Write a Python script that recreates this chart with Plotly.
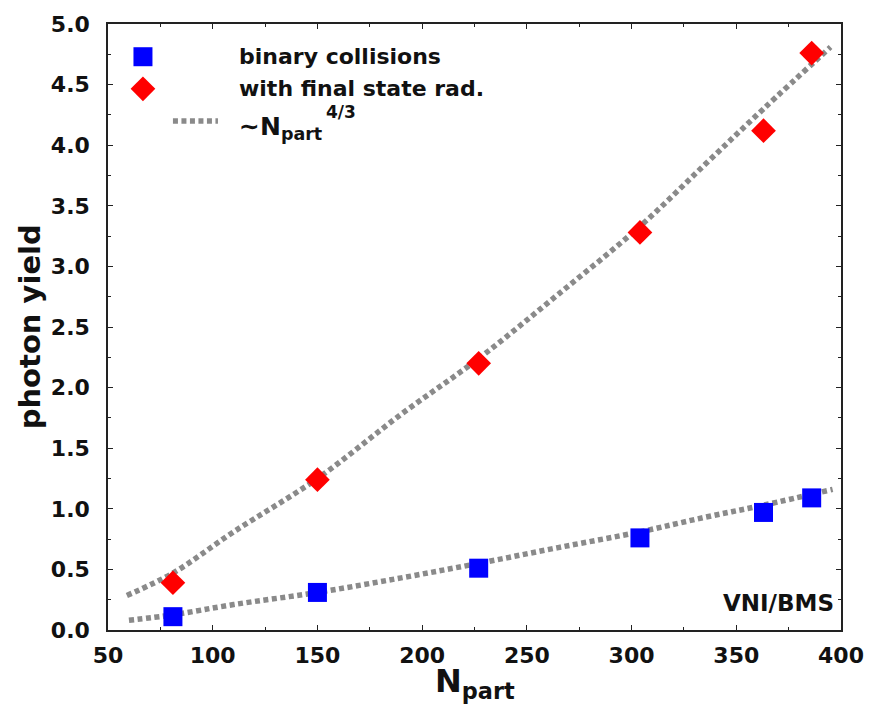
import plotly.graph_objects as go

# ---------------- data ----------------
npart = [81, 150, 227, 304, 363, 386]
binary_coll = [0.11, 0.31, 0.51, 0.76, 0.97, 1.09]
final_state = [0.39, 1.24, 2.20, 3.28, 4.12, 4.76]

fit_hi_x = [59, 81, 110, 150, 190, 227, 265, 304, 335, 363, 395]
fit_hi_y = [0.285, 0.47, 0.81, 1.25, 1.78, 2.24, 2.77, 3.33, 3.84, 4.30, 4.81]
fit_lo_x = [60, 81, 110, 150, 190, 227, 265, 304, 335, 363, 396]
fit_lo_y = [0.08, 0.125, 0.21, 0.31, 0.43, 0.55, 0.68, 0.81, 0.93, 1.03, 1.16]

x_ticks = [50, 100, 150, 200, 250, 300, 350, 400]
y_ticks = [0.0, 0.5, 1.0, 1.5, 2.0, 2.5, 3.0, 3.5, 4.0, 4.5, 5.0]

legend_labels = ["binary collisions", "with final state rad.", "∼N<sub>part</sub>"]
label_power = "4/3"
corner_label = "VNI/BMS"

# ---------------- styles ----------------
FONT = "DejaVu Sans"
BLUE = "#0000ff"
RED = "#ff0000"
GREY = "#8a8a8a"
DASH = "5px,3.5px"
LW = 5.5
INK = "#111"

fig = go.Figure()

for xs, ys in [(fit_hi_x, fit_hi_y), (fit_lo_x, fit_lo_y)]:
    fig.add_trace(go.Scatter(x=xs, y=ys, mode="lines", line_shape="spline",
                             line=dict(color=GREY, width=LW, dash=DASH),
                             showlegend=False, hoverinfo="skip"))

fig.add_trace(go.Scatter(x=npart, y=binary_coll, mode="markers",
                         marker=dict(symbol="square", size=19, color=BLUE),
                         showlegend=False))
fig.add_trace(go.Scatter(x=npart, y=final_state, mode="markers",
                         marker=dict(symbol="diamond", size=19, color=RED),
                         showlegend=False))

# ---------- custom legend (overlay axes in plot-area fractions) ----------
leg_sym_x = 0.0477
leg_rows = [0.946, 0.893, 0.840]
leg_line_x = [0.0886, 0.150]
leg_text_x = 0.176

fig.add_trace(go.Scatter(x=[leg_sym_x], y=[leg_rows[0]], xaxis="x2", yaxis="y2",
                         mode="markers", marker=dict(symbol="square", size=19, color=BLUE),
                         showlegend=False, hoverinfo="skip"))
fig.add_trace(go.Scatter(x=[leg_sym_x], y=[leg_rows[1]], xaxis="x2", yaxis="y2",
                         mode="markers", marker=dict(symbol="diamond", size=19, color=RED),
                         showlegend=False, hoverinfo="skip"))
fig.add_trace(go.Scatter(x=leg_line_x, y=[leg_rows[2]] * 2, xaxis="x2", yaxis="y2",
                         mode="lines", line=dict(color=GREY, width=LW, dash=DASH),
                         showlegend=False, hoverinfo="skip"))

ann = []
ann.append(dict(text=legend_labels[0], x=leg_text_x, y=leg_rows[0], xref="paper", yref="paper",
                xanchor="left", yanchor="middle", showarrow=False,
                font=dict(family=FONT, size=22, color=INK, weight="bold")))
ann.append(dict(text=legend_labels[1], x=leg_text_x, y=leg_rows[1], xref="paper", yref="paper",
                xanchor="left", yanchor="middle", showarrow=False,
                font=dict(family=FONT, size=22, color=INK, weight="bold")))
ann.append(dict(text=legend_labels[2], x=leg_text_x, y=leg_rows[2] - 0.012, xref="paper", yref="paper",
                xanchor="left", yanchor="middle", showarrow=False,
                font=dict(family=FONT, size=25, color=INK, weight="bold")))
ann.append(dict(text=label_power, x=0.295, y=0.855, xref="paper", yref="paper",
                xanchor="left", yanchor="middle", showarrow=False,
                font=dict(family=FONT, size=17, color=INK, weight="bold")))
ann.append(dict(text=corner_label, x=0.993, y=0.045, xref="paper", yref="paper",
                xanchor="right", yanchor="middle", showarrow=False,
                font=dict(family=FONT, size=23, color=INK, weight="bold")))
# axis titles
ann.append(dict(text="photon yield", x=-0.106, y=0.5, xref="paper", yref="paper",
                textangle=-90, xanchor="center", yanchor="middle", showarrow=False,
                font=dict(family=FONT, size=29, color=INK, weight="bold")))
ann.append(dict(text="N<sub>part</sub>", x=0.5, y=-0.088, xref="paper", yref="paper",
                xanchor="center", yanchor="middle", showarrow=False,
                font=dict(family=FONT, size=32, color=INK, weight="bold")))

axis_common = dict(showline=True, linecolor="#222", linewidth=1.5, mirror="allticks",
                   ticks="inside", ticklen=5, tickwidth=1, tickcolor="#222",
                   showgrid=False, zeroline=False,
                   tickfont=dict(family=FONT, size=22, color=INK, weight="bold"))

fig.update_layout(
    width=876, height=709,
    margin=dict(l=108, r=34, t=17, b=79),
    paper_bgcolor="white", plot_bgcolor="white",
    xaxis=dict(range=[50, 400], tickvals=x_ticks, ticktext=[str(v) for v in x_ticks],
               minor=dict(ticks="inside", ticklen=3, dtick=25, tickcolor="#222"),
               ticklabelstandoff=5, **axis_common),
    yaxis=dict(range=[0, 5], tickvals=y_ticks, ticktext=[f"{v:.1f}" for v in y_ticks],
               minor=dict(ticks="inside", ticklen=3, dtick=0.25, tickcolor="#222"),
               ticklabelstandoff=12, **axis_common),
    xaxis2=dict(range=[0, 1], overlaying="x", visible=False, fixedrange=True),
    yaxis2=dict(range=[0, 1], overlaying="y", visible=False, fixedrange=True),
    annotations=ann,
    showlegend=False,
)

fig.write_html("out.html")
